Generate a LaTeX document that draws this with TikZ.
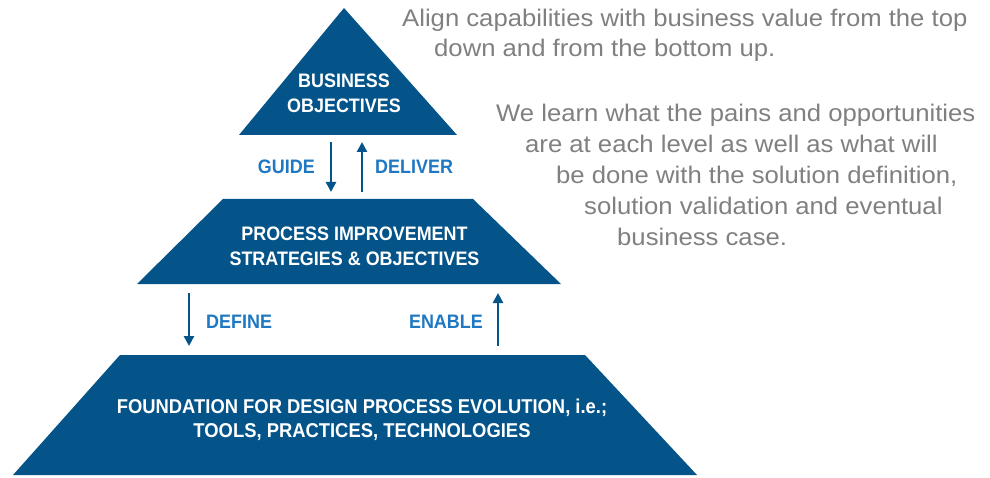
\documentclass[tikz,border=0pt]{standalone}
\usepackage{fontspec}
\setmainfont{Liberation Sans}
\newfontfamily\notefont[FakeStretch=1.07]{Liberation Sans}
\newfontfamily\levelfont[FakeStretch=0.92]{Liberation Sans}
\usetikzlibrary{arrows.meta}
\definecolor{pyrblue}{HTML}{04548A}
\definecolor{verbblue}{HTML}{1F78C1}
\definecolor{notegray}{HTML}{808080}

\begin{document}
\begin{tikzpicture}[x=1pt,y=-1pt,
    level/.style={white,inner sep=0pt,align=center,font=\fontsize{19.5}{25}\levelfont\bfseries},
    verb/.style={verbblue,inner sep=0pt,font=\fontsize{19.5}{22}\levelfont\bfseries},
    note/.style={notegray,inner sep=0pt,anchor=base west,font=\fontsize{24}{30}\notefont},
    flow/.style={pyrblue,line width=2.6pt,-{Triangle[length=10pt,width=10pt]}}]
  \useasboundingbox (0,0) rectangle (990,478);
  % pyramid levels
  \fill[pyrblue] (344,8) -- (457,135) -- (239,135) -- cycle;
  \fill[pyrblue] (223,199) -- (473,199) -- (561,284) -- (137,284) -- cycle;
  \fill[pyrblue] (120,355) -- (585,355) -- (697,475) -- (13,475) -- cycle;
  \node[level] (business) at (344,93) {BUSINESS\\OBJECTIVES};
  \node[level] (process) at (354.5,246.5) {PROCESS IMPROVEMENT\\STRATEGIES \& OBJECTIVES};
  \node[level,font=\fontsize{20}{24}\levelfont\bfseries] (foundation) at (362,420)
    {FOUNDATION FOR DESIGN PROCESS EVOLUTION, i.e.;\\TOOLS, PRACTICES, TECHNOLOGIES};
  % top down / bottom up
  \coordinate (guideA) at (331,142);
  \coordinate (guideB) at (331,192);
  \coordinate (deliverA) at (362,192);
  \coordinate (deliverB) at (362,142);
  \coordinate (defineA) at (189,293);
  \coordinate (defineB) at (189,346);
  \coordinate (enableA) at (498,346);
  \coordinate (enableB) at (498,293);
  \draw[flow] (guideA) -- (guideB);
  \draw[flow] (deliverA) -- (deliverB);
  \draw[flow] (defineA) -- (defineB);
  \draw[flow] (enableA) -- (enableB);
  \node[verb,anchor=east] (guide) at (315,167) {GUIDE};
  \node[verb,anchor=west] (deliver) at (375,167) {DELIVER};
  \node[verb,anchor=west] (define) at (206,321.5) {DEFINE};
  \node[verb,anchor=east] (enable) at (483,321.5) {ENABLE};
  % notes
  \node[note] (align1) at (402,27) {Align capabilities with business value from the top};
  \node[note] (align2) at (434,57) {down and from the bottom up.};
  \node[note] (learn1) at (496,122) {We learn what the pains and opportunities};
  \node[note] (learn2) at (525,153) {are at each level as well as what will};
  \node[note] (learn3) at (556,184) {be done with the solution definition,};
  \node[note] (learn4) at (584,215) {solution validation and eventual};
  \node[note] (learn5) at (617,246) {business case.};
\end{tikzpicture}
\end{document}
